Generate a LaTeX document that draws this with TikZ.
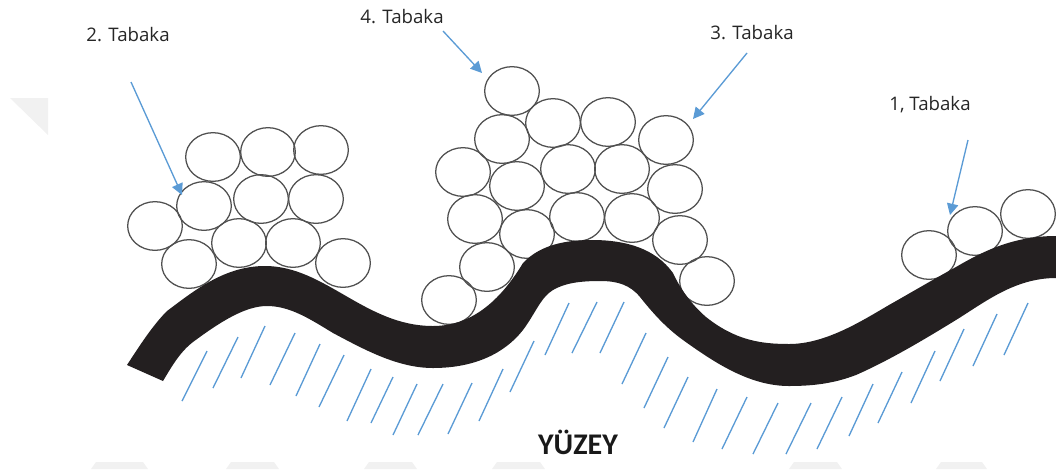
\documentclass[tikz,border=0pt]{standalone}
\usepackage{fontspec}
\setmainfont{Open Sans}
\newfontfamily\boldlabel{Carlito}
\usetikzlibrary{shapes.geometric,arrows.meta}
\definecolor{hatchblue}{HTML}{5B9BD5}
\definecolor{ribbon}{HTML}{231F20}
\definecolor{ringline}{HTML}{505050}
\definecolor{markgray}{HTML}{F1F1F1}
\tikzset{
  grain/.style={ellipse,draw=ringline,line width=0.95pt,minimum width=41pt,minimum height=36.5pt,inner sep=0pt},
  hatchline/.style={draw=hatchblue,line width=1pt},
  pointer/.style={draw=hatchblue,line width=1pt,-{Triangle[length=8.5pt,width=8.5pt]}},
  tablabel/.style={font=\fontsize{14}{16}\selectfont,text=black!85,inner sep=0pt}
}
\begin{document}
\begin{tikzpicture}[x=0.75pt,y=-0.75pt]
\useasboundingbox (0,0) rectangle (1056,469);
% faint page marks
\fill[markgray] (10,98) -- (48,98) -- (48,135) -- cycle;
\foreach \a/\b in {91/148,226/279,364/417,492/545,789/842,936/987}{
  \fill[markgray] (\a,469) -- (\a+5,462) -- (\b-5,462) -- (\b,469) -- cycle;
}
% surface hatching
\foreach \a/\b/\c/\d in {207/351/182/401,238/337/213/388,265/326/241/378,295/333/270/385,320/344/296/396,344/355/319/407,371/369/347/421,393/377/371/423,417/384/393/435,443/384/418/435,472/383/448/434,503/369/479/421,534/341/510/392,569/303/545/355,597/302/572/353,624/302/600/353,646/333/622/384,668/357/644/408,688/377/664/428,717/389/693/442,747/397/722/449,778/403/753/454,811/403/786/454,842/397/817/449,873/384/849/436,902/372/878/423,935/351/911/403,964/329/940/381,997/314/973/366,1028/303/1004/355}{
  \draw[hatchline] (\a,\b) -- (\c,\d);
}
% grains
\foreach \n/\x/\y in {a1/213/157,a2/268/152,a3/321/150,a4/204/206,a5/261/199,a6/316/199,a7/155/226,a8/189/264,a9/239/243,a10/293/243,a11/343/263,
 b1/512/91,b2/553/123,b3/608/122,b4/666/140,b5/502/139,b6/463/172,b7/517/186,b8/568/169,b9/622/169,b10/675/189,b11/475/219,b12/527/234,b13/577/217,b14/632/218,b15/680/240,b16/487/267,b17/449/300,b18/707/281,
 c1/929/255,c2/975/231,c3/1028/214}{
  \node[grain] (\n) at (\x,\y) {};
}
% adsorbed film
\fill[ribbon] (127,365)
  .. controls (140,345) and (153,325) .. (167,311)
  .. controls (195,290) and (225,266) .. (265,266)
  .. controls (325,266) and (365,326) .. (433,326)
  .. controls (475,326) and (503,296) .. (523,263)
  .. controls (540,245) and (565,240) .. (592,240)
  .. controls (625,240) and (655,248) .. (673,273)
  .. controls (680,288) and (690,303) .. (706,317)
  .. controls (735,340) and (760,344) .. (789,344)
  .. controls (825,344) and (860,322) .. (889,305)
  .. controls (912,292) and (934,279) .. (956,267)
  .. controls (985,250) and (1015,236) .. (1056,236)
  -- (1056,278)
  .. controls (1015,278) and (985,302) .. (956,320)
  .. controls (925,339) and (890,360) .. (856,375)
  .. controls (835,383) and (815,386) .. (789,386)
  .. controls (750,386) and (715,363) .. (683,340)
  .. controls (665,327) and (652,312) .. (640,297)
  .. controls (630,285) and (618,281) .. (600,281)
  .. controls (580,281) and (565,283) .. (553,290)
  .. controls (541,297) and (535,314) .. (523,330)
  .. controls (505,353) and (475,368) .. (433,368)
  .. controls (398,368) and (365,350) .. (333,333)
  .. controls (310,319) and (290,306) .. (267,306)
  .. controls (245,306) and (220,322) .. (193,342)
  .. controls (180,352) and (172,366) .. (163,381)
  -- cycle;
% labels
\node[tablabel] (l2) at (128,35) {2. Tabaka};
\node[tablabel] (l4) at (402,17) {4. Tabaka};
\node[tablabel] (l3) at (752,33) {3. Tabaka};
\node[tablabel] (l1) at (930,105) {1, Tabaka};
\node[font=\boldlabel\bfseries\fontsize{22.5}{26}\selectfont,text=black!90,inner sep=0pt] (yuzey) at (578,442) {YÜZEY};
% pointers
\coordinate (s2) at (131,82); \coordinate (e2) at (182,195);
\coordinate (s4) at (443,31); \coordinate (e4) at (482,73);
\coordinate (s3) at (747,53); \coordinate (e3) at (693,119);
\coordinate (s1) at (968,140); \coordinate (e1) at (950,215);
\draw[pointer] (s2) -- (e2);
\draw[pointer] (s4) -- (e4);
\draw[pointer] (s3) -- (e3);
\draw[pointer] (s1) -- (e1);
\end{tikzpicture}
\end{document}
